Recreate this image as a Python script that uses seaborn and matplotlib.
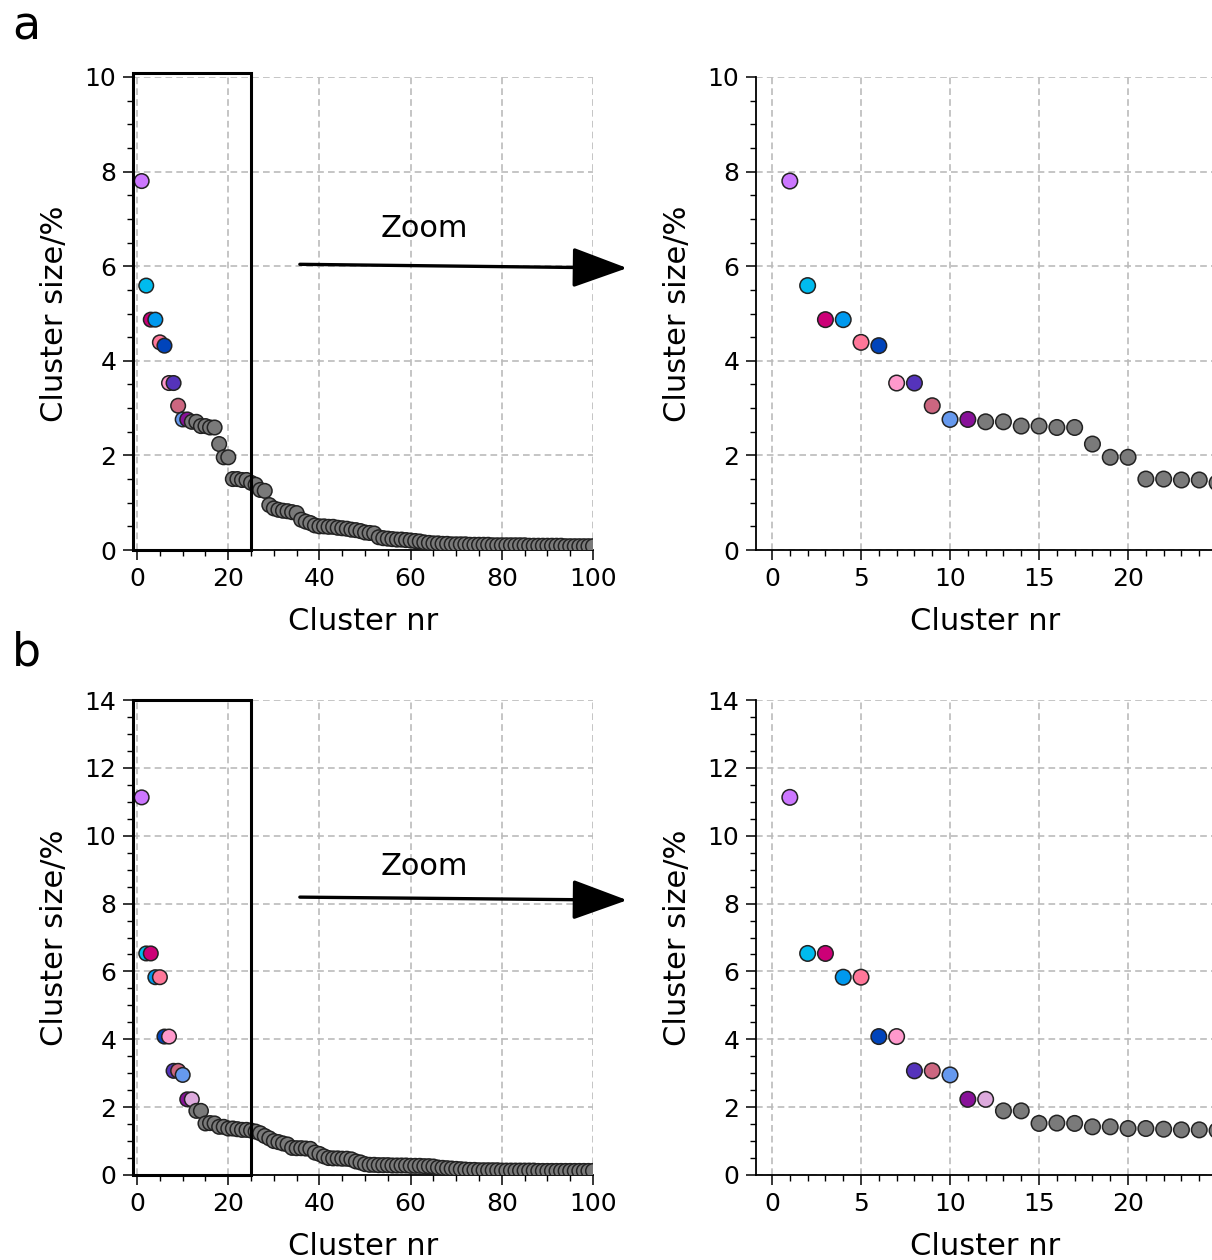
import numpy as np
import pandas as pd
import matplotlib
matplotlib.use("Agg")
import matplotlib.pyplot as plt
import seaborn as sns
from matplotlib.ticker import MultipleLocator
from matplotlib.patches import Rectangle

sns.set_style("ticks")
plt.rcParams["font.family"] = ["DejaVu Sans"]
plt.rcParams["text.color"] = "black"
plt.rcParams["axes.labelcolor"] = "black"
plt.rcParams["xtick.color"] = "black"
plt.rcParams["ytick.color"] = "black"

# ---------------- data ----------------
size_a = [7.80, 5.59, 4.87, 4.87, 4.39, 4.32, 3.53, 3.53, 3.05, 2.76,
          2.76, 2.71, 2.71, 2.62, 2.62, 2.59, 2.59, 2.24, 1.96, 1.96,
          1.50, 1.50, 1.48, 1.48, 1.42, 1.38, 1.27, 1.25, 0.95, 0.88,
          0.85, 0.83, 0.82, 0.80, 0.78, 0.64, 0.60, 0.57, 0.52, 0.50,
          0.50, 0.49, 0.49, 0.47, 0.46, 0.45, 0.43, 0.42, 0.40, 0.37,
          0.36, 0.35, 0.27, 0.25, 0.24, 0.23, 0.22, 0.22, 0.21, 0.20,
          0.19, 0.18, 0.16, 0.15, 0.14, 0.14, 0.13, 0.13, 0.12, 0.12,
          0.12, 0.12, 0.11, 0.11, 0.11, 0.11, 0.11, 0.10, 0.10, 0.10,
          0.10, 0.10, 0.10, 0.10, 0.10, 0.09, 0.09, 0.09, 0.09, 0.09,
          0.09, 0.09, 0.09, 0.08, 0.08, 0.08, 0.08, 0.08, 0.08, 0.08]

size_b = [11.13, 6.53, 6.53, 5.83, 5.83, 4.08, 4.08, 3.07, 3.07, 2.95,
          2.23, 2.23, 1.89, 1.89, 1.52, 1.53, 1.52, 1.42, 1.42, 1.37,
          1.37, 1.35, 1.33, 1.33, 1.31, 1.28, 1.23, 1.15, 1.08, 1.00,
          0.97, 0.93, 0.90, 0.80, 0.79, 0.79, 0.78, 0.77, 0.66, 0.62,
          0.55, 0.50, 0.49, 0.49, 0.48, 0.48, 0.46, 0.40, 0.37, 0.32,
          0.30, 0.30, 0.29, 0.29, 0.29, 0.28, 0.28, 0.28, 0.28, 0.27,
          0.27, 0.27, 0.26, 0.26, 0.25, 0.22, 0.21, 0.20, 0.19, 0.18,
          0.17, 0.16, 0.15, 0.15, 0.14, 0.14, 0.14, 0.14, 0.14, 0.13,
          0.13, 0.13, 0.13, 0.13, 0.13, 0.13, 0.13, 0.12, 0.12, 0.12,
          0.12, 0.12, 0.12, 0.12, 0.12, 0.12, 0.12, 0.12, 0.12, 0.12]

highlight_colors = ["#cc77ff", "#00bbee", "#cc0077", "#0099ee", "#ff7799",
                    "#0044bb", "#ff99cc", "#5533bb", "#cc6680", "#6699ee",
                    "#881199", "#ddaadd"]
n_highlight_a = 11
n_highlight_b = 12
other_color = "#7a7a7a"

panel_letters = ["a", "b"]
x_label = "Cluster nr"
y_label = "Cluster size/%"
zoom_text = "Zoom"

# ---------------- layout ----------------
W, H = 1212, 1260
fig = plt.figure(figsize=(W / 100, H / 100), dpi=100)


def fx(px):
    return px / W


def fy(py):
    return 1 - py / H


TICK_FS = 18
LABEL_FS = 22


def style_axes(ax, xmajor, xminor, yminor):
    ax.xaxis.set_major_locator(MultipleLocator(xmajor))
    ax.xaxis.set_minor_locator(MultipleLocator(xminor))
    ax.yaxis.set_major_locator(MultipleLocator(2))
    ax.yaxis.set_minor_locator(MultipleLocator(yminor))
    ax.tick_params(which="major", direction="out", length=7, width=1.1,
                   labelsize=TICK_FS, pad=5, color="black", labelcolor="black")
    ax.tick_params(which="minor", direction="out", length=4, width=1.0,
                   color="black")
    for sp in ["top", "right"]:
        ax.spines[sp].set_visible(False)
    for sp in ["left", "bottom"]:
        ax.spines[sp].set_linewidth(1.3)
        ax.spines[sp].set_color("black")
    ax.grid(True, which="major", linestyle=(0, (4, 2.5)), color="#bbbbbb",
            linewidth=1.2)
    ax.set_axisbelow(True)
    ax.set_xlabel(x_label, fontsize=LABEL_FS, labelpad=12, color="black")
    ax.set_ylabel(y_label, fontsize=LABEL_FS, labelpad=11, color="black")


def draw(ax, sizes, nh, s):
    nr = np.arange(1, len(sizes) + 1)
    grp = [str(i) for i in nr]
    cols = [highlight_colors[i] if i < nh else other_color for i in range(len(sizes))]
    df = pd.DataFrame({"nr": nr, "size": sizes, "grp": grp})
    sns.scatterplot(data=df, x="nr", y="size", hue="grp",
                    palette=dict(zip(grp, cols)), s=s,
                    edgecolor="#222222", linewidth=1.1, legend=False,
                    ax=ax, zorder=3)


panels = [
    dict(sizes=size_a, nh=n_highlight_a, ytop=10, top_px=77, bot_px=550,
         rect_h=10.08, arrow=((35.7, 6.04), (107.5, 5.96)), ztxt=(63, 6.8),
         letter_y=40),
    dict(sizes=size_b, nh=n_highlight_b, ytop=14, top_px=700, bot_px=1175,
         rect_h=14.0, arrow=((35.7, 8.19), (107.5, 8.10)), ztxt=(63, 9.1),
         letter_y=665),
]

for i, p in enumerate(panels):
    # left overview
    axl = fig.add_axes([fx(133), fy(p["bot_px"]), fx(593) - fx(133),
                        fy(p["top_px"]) - fy(p["bot_px"])])
    draw(axl, p["sizes"], p["nh"], s=110)
    axl.set_xlim(-0.9, 100)
    axl.set_ylim(0, p["ytop"])
    style_axes(axl, 20, 5, 0.5)
    axl.add_patch(Rectangle((-0.9, 0), 25.9, p["rect_h"], fill=False,
                            edgecolor="black", linewidth=2.2, clip_on=False,
                            zorder=4))
    (x0, y0), (x1, y1) = p["arrow"]
    axl.annotate("", xy=(x1, y1), xytext=(x0, y0), xycoords="data",
                 arrowprops=dict(arrowstyle="-|>,head_length=1.15,head_width=0.42",
                                 mutation_scale=30, lw=2.4, color="black",
                                 shrinkA=0, shrinkB=0),
                 annotation_clip=False)
    axl.text(p["ztxt"][0], p["ztxt"][1], zoom_text, fontsize=22,
             ha="center", va="center")

    # right zoom
    axr = fig.add_axes([fx(756), fy(p["bot_px"]), fx(1213.5) - fx(756),
                        fy(p["top_px"]) - fy(p["bot_px"])])
    draw(axr, p["sizes"], p["nh"], s=125)
    axr.set_xlim(-0.9, 24.8)
    axr.set_ylim(0, p["ytop"])
    style_axes(axr, 5, 1, 0.5)

    fig.text(fx(12), fy(p["letter_y"]), panel_letters[i], fontsize=33,
             ha="left", va="baseline")

fig.savefig("out.png", dpi=100)
